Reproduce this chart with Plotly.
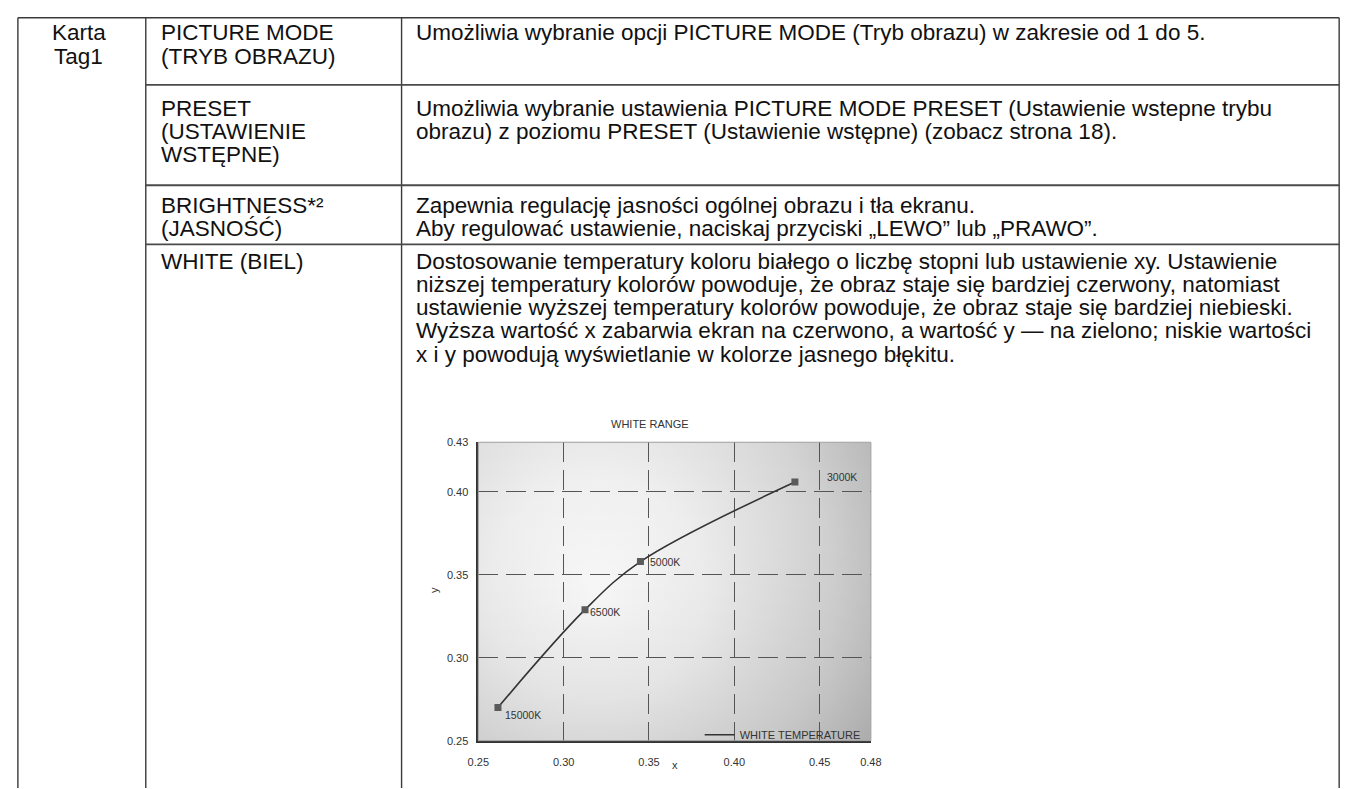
import base64
import plotly.graph_objects as go

W, H = 1360, 789

# ---------------- data ----------------
temp_labels = ["15000K", "6500K", "5000K", "3000K"]
cie_x = [0.2615, 0.3125, 0.345, 0.4355]
cie_y = [0.270, 0.329, 0.358, 0.406]

x_tick_vals = [0.25, 0.30, 0.35, 0.40, 0.45, 0.48]
x_tick_text = ["0.25", "0.30", "0.35", "0.40", "0.45", "0.48"]
y_tick_vals = [0.25, 0.30, 0.35, 0.40, 0.43]
y_tick_text = ["0.25", "0.30", "0.35", "0.40", "0.43"]
x_grid_vals = [0.30, 0.35, 0.40, 0.45]
y_grid_vals = [0.30, 0.35, 0.40]

chart_title = "WHITE RANGE"
series_name = "WHITE TEMPERATURE"

group_label = ["Karta", "Tag1"]
row_names = [
    ["PICTURE MODE", "(TRYB OBRAZU)"],
    ["PRESET", "(USTAWIENIE", "WSTĘPNE)"],
    ["BRIGHTNESS*²", "(JASNOŚĆ)"],
    ["WHITE (BIEL)"],
]
row_descriptions = [
    ["Umożliwia wybranie opcji PICTURE MODE (Tryb obrazu) w zakresie od 1 do 5."],
    ["Umożliwia wybranie ustawienia PICTURE MODE PRESET (Ustawienie wstepne trybu",
     "obrazu) z poziomu PRESET (Ustawienie wstępne) (zobacz strona 18)."],
    ["Zapewnia regulację jasności ogólnej obrazu i tła ekranu.",
     "Aby regulować ustawienie, naciskaj przyciski „LEWO” lub „PRAWO”."],
    ["Dostosowanie temperatury koloru białego o liczbę stopni lub ustawienie xy. Ustawienie",
     "niższej temperatury kolorów powoduje, że obraz staje się bardziej czerwony, natomiast",
     "ustawienie wyższej temperatury kolorów powoduje, że obraz staje się bardziej niebieski.",
     "Wyższa wartość x zabarwia ekran na czerwono, a wartość y — na zielono; niskie wartości",
     "x i y powodują wyświetlanie w kolorze jasnego błękitu."],
]

# ---------------- layout helpers ----------------
def px(x):
    return x / W

def py(y):
    return 1 - y / H

# table geometry (pixels)
T_LEFT, T_RIGHT, T_TOP = 7, 1350, 12
COL1, COL2 = 137, 397
ROW_LINES = [80, 182, 242]
ROW_TEXT_Y = [[27, 51], [104, 127, 151], [203, 226], [259, 283, 306, 330, 354, 377]]
COL1_CX, COL2_X, COL3_X = 69, 150, 410
TXT_FONT = dict(family="Liberation Sans, Arial, sans-serif", size=22.5, color="#111")

# chart geometry (pixels)
PL, PR, PT, PB = 475, 874, 443, 746

fig = go.Figure()

fig.add_trace(go.Scatter(
    x=cie_x, y=cie_y, mode="lines", name=series_name,
    line=dict(color="#333", width=1.6, shape="spline", smoothing=1.0),
    hoverinfo="skip",
))
fig.add_trace(go.Scatter(
    x=cie_x, y=cie_y, mode="markers", showlegend=False,
    marker=dict(symbol="square", size=7, color="#5a5a5a"),
    hoverinfo="skip",
))

shapes = []
line_col = "#3a3a3a"
# table lines
shapes.append(dict(type="line", xref="paper", yref="paper", x0=px(T_LEFT), x1=px(T_RIGHT),
                   y0=py(T_TOP), y1=py(T_TOP), line=dict(color=line_col, width=1.6)))
for xv in [T_LEFT, COL1, COL2, T_RIGHT]:
    shapes.append(dict(type="line", xref="paper", yref="paper", x0=px(xv), x1=px(xv),
                       y0=py(T_TOP), y1=py(H + 5), line=dict(color=line_col, width=1.4)))
for yv in ROW_LINES:
    shapes.append(dict(type="line", xref="paper", yref="paper", x0=px(COL1), x1=px(T_RIGHT),
                       y0=py(yv), y1=py(yv), line=dict(color="#4a4a4a", width=1.8)))
# chart frame (top / right lighter)
shapes.append(dict(type="rect", xref="paper", yref="paper", x0=px(PL), x1=px(PR),
                   y0=py(PB), y1=py(PT), line=dict(color="#9a9a9a", width=1)))

annotations = []
for i, t in enumerate(group_label):
    annotations.append(dict(text=t, x=px(COL1_CX), y=py(ROW_TEXT_Y[0][i]), xref="paper", yref="paper",
                            xanchor="center", yanchor="middle", showarrow=False, font=TXT_FONT))
for r, names in enumerate(row_names):
    for i, t in enumerate(names):
        annotations.append(dict(text=t, x=px(COL2_X), y=py(ROW_TEXT_Y[r][i]), xref="paper", yref="paper",
                                xanchor="left", yanchor="middle", showarrow=False, font=TXT_FONT))
for r, lines in enumerate(row_descriptions):
    for i, t in enumerate(lines):
        annotations.append(dict(text=t, x=px(COL3_X), y=py(ROW_TEXT_Y[r][i]), xref="paper", yref="paper",
                                xanchor="left", yanchor="middle", showarrow=False, font=TXT_FONT))

small = dict(family="Liberation Sans, Arial, sans-serif", size=11, color="#333")
annotations.append(dict(text=chart_title, x=px(650), y=py(424), xref="paper", yref="paper",
                        xanchor="center", yanchor="middle", showarrow=False, font=small))
annotations.append(dict(text="y", x=px(430), y=py(593), xref="paper", yref="paper", textangle=-90,
                        xanchor="center", yanchor="middle", showarrow=False, font=small))
annotations.append(dict(text="x", x=px(675), y=py(771), xref="paper", yref="paper",
                        xanchor="center", yanchor="middle", showarrow=False, font=small))

label_shift = [(5, -7), (3, -2), (8, 0), (30, 5)]
for lab, xv, yv, (dx, dy) in zip(temp_labels, cie_x, cie_y, label_shift):
    annotations.append(dict(text=lab, x=xv, y=yv, xref="x", yref="y", xanchor="left", yanchor="middle",
                            xshift=dx, yshift=dy, showarrow=False,
                            font=dict(family="Liberation Sans, Arial, sans-serif", size=10.5, color="#333")))

# radial gradient background of the chart
svg = (
    '<svg xmlns="http://www.w3.org/2000/svg" width="399" height="303" viewBox="0 0 399 303" '
    'preserveAspectRatio="none"><defs>'
    '<radialGradient id="g" cx="120" cy="150" r="370" gradientUnits="userSpaceOnUse">'
    '<stop offset="0" stop-color="#ffffff"/><stop offset="0.3" stop-color="#f2f2f2"/>'
    '<stop offset="0.65" stop-color="#d4d4d4"/><stop offset="1" stop-color="#a6a6a6"/></radialGradient>'
    '<linearGradient id="l" x1="0" y1="0" x2="0" y2="1"><stop offset="0" stop-color="#000" stop-opacity="0"/>'
    '<stop offset="1" stop-color="#000" stop-opacity="0.07"/></linearGradient></defs>'
    '<rect width="399" height="303" fill="url(#g)"/><rect width="399" height="303" fill="url(#l)"/></svg>'
)
src = "data:image/svg+xml;base64," + base64.b64encode(svg.encode()).decode()

fig.update_layout(
    width=W, height=H,
    margin=dict(l=0, r=0, t=0, b=0),
    paper_bgcolor="white", plot_bgcolor="rgba(0,0,0,0)",
    shapes=shapes, annotations=annotations,
    images=[dict(source=src, xref="x", yref="y", x=0.25, y=0.43, sizex=0.23, sizey=0.18,
                 sizing="stretch", xanchor="left", yanchor="top", layer="below")],
    showlegend=True,
    legend=dict(x=px(700), y=py(740), xanchor="left", yanchor="middle", bgcolor="rgba(0,0,0,0)",
                font=small, itemwidth=30, borderwidth=0),
    xaxis=dict(domain=[px(PL), px(PR)], range=[0.25, 0.48], tickvals=x_tick_vals, ticktext=x_tick_text,
               showgrid=False, zeroline=False, showline=True, linecolor="#333", linewidth=1.5,
               ticks="outside", ticklen=10, tickcolor="rgba(0,0,0,0)", tickfont=small,
               minor=dict(tickvals=x_grid_vals, showgrid=True, gridcolor="#555", gridwidth=1.2,
                          griddash="20px,8px", ticks=""),
               fixedrange=True),
    yaxis=dict(domain=[py(PB), py(PT)], range=[0.25, 0.43], tickvals=y_tick_vals, ticktext=y_tick_text,
               showgrid=False, zeroline=False, showline=True, linecolor="#333", linewidth=1.5,
               ticks="outside", ticklen=6, tickcolor="rgba(0,0,0,0)", tickfont=small,
               minor=dict(tickvals=y_grid_vals, showgrid=True, gridcolor="#555", gridwidth=1.2,
                          griddash="20px,8px", ticks=""),
               fixedrange=True),
)

fig.write_html("out.html", config={"displayModeBar": False},
               post_script="document.body.style.margin='0';document.body.style.overflow='hidden';")
